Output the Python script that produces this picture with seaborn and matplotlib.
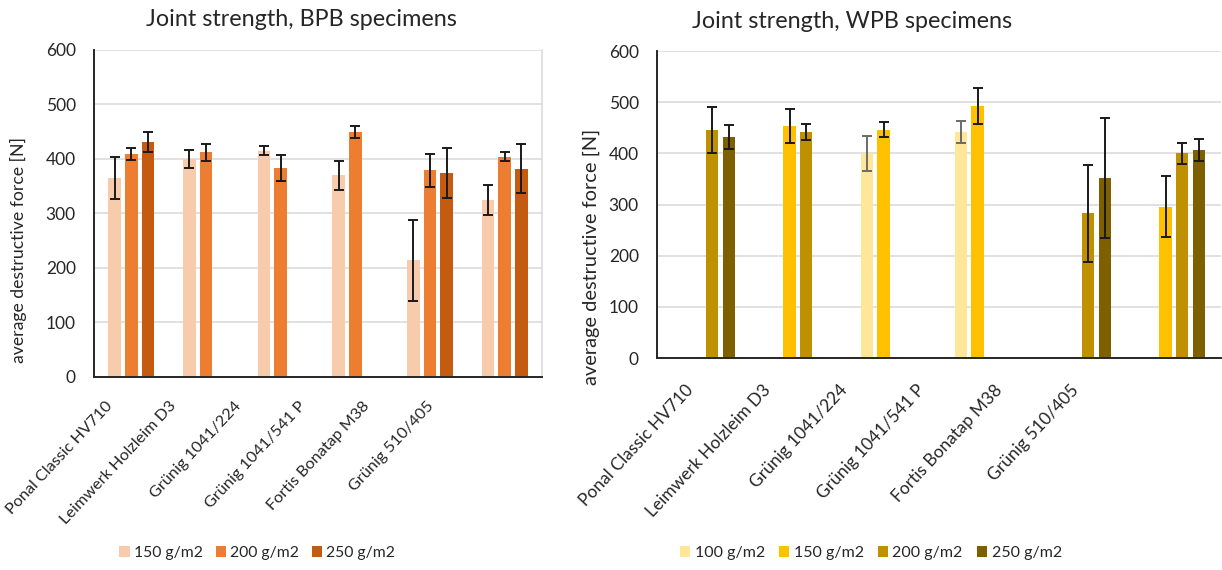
import numpy as np
import pandas as pd
import matplotlib
matplotlib.use("Agg")
import matplotlib.pyplot as plt
import seaborn as sns

# Adhesives tested (x categories, same for both panels)
adhesives = ["Ponal Classic HV710", "Leimwerk Holzleim D3", "Grünig 1041/224",
             "Grünig 1041/541 P", "Fortis Bonatap M38", "Grünig 510/405"]

# BPB specimens: mean destructive force [N] and standard deviation per glue spread
bpb_levels = ["150 g/m2", "200 g/m2", "250 g/m2"]
bpb_150 = [365, 400, 415, 370, 214, 325]
bpb_200 = [410, 412, 384, 450, 379, 404]
bpb_250 = [431, np.nan, np.nan, np.nan, 375, 382]
bpb_150_sd = [39, 16, 8, 27, 74, 27]
bpb_200_sd = [11, 15, 24, 11, 30, 8]
bpb_250_sd = [18, np.nan, np.nan, np.nan, 46, 45]

# WPB specimens
wpb_levels = ["100 g/m2", "150 g/m2", "200 g/m2", "250 g/m2"]
wpb_100 = [np.nan, np.nan, 400, 442, np.nan, np.nan]
wpb_150 = [np.nan, 453, 446, 492, np.nan, 296]
wpb_200 = [446, 442, np.nan, np.nan, 283, 400]
wpb_250 = [432, np.nan, np.nan, np.nan, 352, 407]
wpb_100_sd = [np.nan, np.nan, 34, 21, np.nan, np.nan]
wpb_150_sd = [np.nan, 33, 15, 35, np.nan, 59]
wpb_200_sd = [45, 16, np.nan, np.nan, 95, 21]
wpb_250_sd = [23, np.nan, np.nan, np.nan, 117, 21]

bpb_colors = ["#F8CBAD", "#ED7D31", "#C55A11"]
wpb_colors = ["#FFE699", "#FFC000", "#BF9000", "#7F6000"]


def long_table(levels, means, sds):
    rows = []
    for lev, m, s in zip(levels, means, sds):
        for a, v, e in zip(adhesives, m, s):
            if not np.isnan(v):
                rows.append({"adhesive": a, "spread": lev, "force": v, "sd": e})
    return pd.DataFrame(rows)


bpb = long_table(bpb_levels, [bpb_150, bpb_200, bpb_250],
                 [bpb_150_sd, bpb_200_sd, bpb_250_sd])
wpb = long_table(wpb_levels, [wpb_100, wpb_150, wpb_200, wpb_250],
                 [wpb_100_sd, wpb_150_sd, wpb_200_sd, wpb_250_sd])

sns.set_theme(style="white")
plt.rcParams["font.family"] = ["Lato", "DejaVu Sans"]
text_color = "#262626"

fig = plt.figure(figsize=(12.22, 5.70), dpi=100)
ax1 = fig.add_axes([0.0769, 0.3386, 0.3666, 0.5737])
ax2 = fig.add_axes([0.5376, 0.3719, 0.4615, 0.5386])


def draw(ax, df, levels, colors, width, gap, fs_tick, fs_label, fs_xtick,
         xpad, label_start, label_step, ylabel_xy, err_colors):
    palette = dict(zip(levels, colors))
    sns.barplot(data=df, x="adhesive", y="force", hue="spread", order=adhesives,
                hue_order=levels, palette=palette, width=width, gap=gap,
                errorbar=None, saturation=1, ax=ax, linewidth=0)
    # standard deviation whiskers on every bar
    for lev, cont in zip(levels, ax.containers):
        sub = df[df["spread"] == lev].set_index("adhesive")
        for bar in cont:
            xc = bar.get_x() + bar.get_width() / 2
            cat = adhesives[int(round(xc))]
            ax.errorbar(xc, sub.loc[cat, "force"], yerr=sub.loc[cat, "sd"],
                        fmt="none", ecolor=err_colors[lev], elinewidth=1.4,
                        capsize=3.6, capthick=1.4, zorder=4)
    ax.set_ylim(0, 600)
    ax.set_yticks(range(0, 601, 100))
    ax.set_xlim(-0.5, len(adhesives) - 0.5)
    # category labels are set a little tighter than the bar groups
    ax.set_xticks([label_start + label_step * i for i in range(len(adhesives))],
                  adhesives)
    ax.yaxis.grid(True, color="#D9D9D9", linewidth=1.1)
    ax.set_axisbelow(True)
    ax.set_xlabel("")
    ax.set_ylabel("average destructive force [N]", fontsize=fs_label,
                  color=text_color)
    ax.yaxis.set_label_coords(*ylabel_xy)
    ax.tick_params(axis="both", length=0, colors=text_color)
    ax.tick_params(axis="y", labelsize=fs_tick, pad=13)
    ax.tick_params(axis="x", labelsize=fs_xtick, pad=xpad)
    for lab in ax.get_xticklabels():
        lab.set_rotation(47)
        lab.set_ha("right")
        lab.set_rotation_mode("anchor")
    for side in ["left", "bottom"]:
        ax.spines[side].set_color("#262626")
        ax.spines[side].set_linewidth(1.4)
    ax.spines["top"].set_visible(False)
    ax.spines["right"].set_color("#D9D9D9")
    ax.spines["right"].set_linewidth(1.1)
    handles, labels = ax.get_legend_handles_labels()
    ax.get_legend().remove()
    return handles, labels


h1, l1 = draw(ax1, bpb, bpb_levels, bpb_colors, 0.67, 0.25, 12.5, 12.7, 11.7, 15.8,
              -0.357, 0.8625, (-0.15, 0.388),
              {lev: "#1a1a1a" for lev in bpb_levels})
wpb_err = {lev: "#1a1a1a" for lev in wpb_levels}
wpb_err["100 g/m2"] = "#6a6a6a"
h2, l2 = draw(ax2, wpb, wpb_levels, wpb_colors, 0.71, 0.265, 12.5, 14.4, 12.5, 17.3,
              -0.205, 0.821, (-0.101, 0.33), wpb_err)
ax2.spines["right"].set_visible(False)

fig.text(301 / 1222, 1 - 20 / 570, "Joint strength, BPB specimens", ha="center",
         va="center", fontsize=16.8, color=text_color)
fig.text(852 / 1222, 1 - 22 / 570, "Joint strength, WPB specimens", ha="center",
         va="center", fontsize=16.8, color=text_color)

leg_kw = dict(loc="center", ncol=4, frameon=False, handlelength=0.64,
              handleheight=0.64, handletextpad=0.26, labelcolor=text_color)
fig.legend(h1, l1, bbox_to_anchor=(257 / 1222, 1 - 553 / 570), fontsize=11.3,
           columnspacing=0.83, **leg_kw)
fig.legend(h2, l2, bbox_to_anchor=(871 / 1222, 1 - 553 / 570), fontsize=11.5,
           columnspacing=0.9, **leg_kw)

fig.savefig("out.png", dpi=100)
